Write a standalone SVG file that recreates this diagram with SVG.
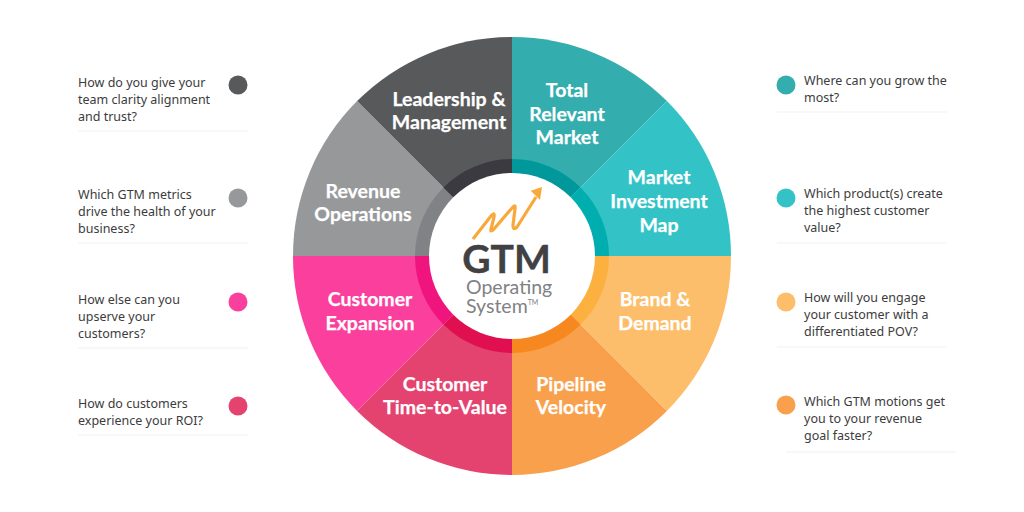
<svg xmlns="http://www.w3.org/2000/svg" width="1024" height="512" viewBox="0 0 1024 512">
<style>
.l{font-family:"Lato","Noto Sans",sans-serif;font-weight:700;font-size:19.500px;fill:#fff;text-anchor:middle;stroke:#fff;stroke-width:.25px}
.q{font-family:"Noto Sans","Open Sans",sans-serif;font-size:12.500px;fill:#3c3c3c}
.r{stroke:#f1f1f1;stroke-width:1;fill:none}
</style>
<rect width="1024" height="512" fill="#fff"/>
<g id="connectors"></g>
<g id="wheel">
<g id="total-relevant-market"><path d="M512 256V37A219 219 0 0 1 666.9 101.1Z" fill="#33adad"/><path d="M512 159A97 97 0 0 1 580.6 187.4L512 256Z" fill="#00989a"/><text class="l"><tspan x="567" y="97">Total</tspan><tspan x="567" y="120.500">Relevant</tspan><tspan x="567" y="144">Market</tspan></text></g>
<g id="market-investment-map"><path d="M512 256L666.9 101.1A219 219 0 0 1 731 256Z" fill="#33c3c6"/><path d="M512 256L580.6 187.4A97 97 0 0 1 609 256Z" fill="#00aeb0"/><text class="l"><tspan x="659" y="184">Market</tspan><tspan x="659" y="208">Investment</tspan><tspan x="659" y="232">Map</tspan></text></g>
<g id="brand-demand"><path d="M512 256H731A219 219 0 0 1 666.9 410.9Z" fill="#fdbe6b"/><path d="M512 256H609A97 97 0 0 1 580.6 324.6Z" fill="#fbb040"/><text class="l"><tspan x="655" y="306">Brand &amp;</tspan><tspan x="655" y="330">Demand</tspan></text></g>
<g id="pipeline-velocity"><path d="M512 256L666.9 410.9A219 219 0 0 1 512 475Z" fill="#f9a04d"/><path d="M512 256L580.6 324.6A97 97 0 0 1 512 353Z" fill="#f7881f"/><text class="l"><tspan x="571" y="391">Pipeline</tspan><tspan x="571" y="414">Velocity</tspan></text></g>
<g id="customer-time-to-value"><path d="M512 256V475A219 219 0 0 1 357.1 410.9Z" fill="#e4426f"/><path d="M512 256V353A97 97 0 0 1 443.4 324.6Z" fill="#e01050"/><text class="l"><tspan x="445" y="391">Customer</tspan><tspan x="445" y="414">Time-to-Value</tspan></text></g>
<g id="customer-expansion"><path d="M512 256L357.1 410.9A219 219 0 0 1 293 256Z" fill="#fb3f9c"/><path d="M512 256L443.4 324.6A97 97 0 0 1 415 256Z" fill="#f0147f"/><text class="l"><tspan x="370" y="306">Customer</tspan><tspan x="370" y="330">Expansion</tspan></text></g>
<g id="revenue-operations"><path d="M512 256H293A219 219 0 0 1 357.1 101.1Z" fill="#97989a"/><path d="M512 256H415A97 97 0 0 1 443.4 187.4Z" fill="#808285"/><text class="l"><tspan x="363" y="198">Revenue</tspan><tspan x="363" y="221">Operations</tspan></text></g>
<g id="leadership-management"><path d="M512 256L357.1 101.1A219 219 0 0 1 512 37Z" fill="#58595b"/><path d="M512 256L443.4 187.4A97 97 0 0 1 512 159Z" fill="#3a3a40"/><text class="l"><tspan x="449" y="105.500">Leadership &amp;</tspan><tspan x="449" y="129">Management</tspan></text></g>
</g>
<g id="hub">
<circle cx="512" cy="256" r="83" fill="#fff"/>
<path d="M473 239L491 216Q495 211 494 217L491 229Q490 233 494 229L512 208Q516 203 515 209L513 225Q513 231 517 227L536 197" fill="none" stroke="#f9a93c" stroke-width="3.2" stroke-linejoin="round"/>
<path d="M542 187L540 200L530.7 190.7Z" fill="#f9a93c"/>
<text x="506.500" y="273" text-anchor="middle" font-family="Lato,sans-serif" font-weight="700" font-size="39" fill="#414042" stroke="#414042" stroke-width=".4">GTM</text>
<text x="466" y="293.500" font-family="Lato,sans-serif" font-size="19.500" fill="#808285">Operating</text>
<text x="466" y="313" font-family="Lato,sans-serif" font-size="19.500" fill="#808285">System<tspan font-size="7" dy="-8">TM</tspan></text>
</g>
<g id="q1"><circle cx="238" cy="85" r="9.500" fill="#58595b"/><text class="q"><tspan x="78" y="87">How do you give your</tspan><tspan x="78" y="104">team clarity alignment</tspan><tspan x="78" y="121">and trust?</tspan></text><path class="r" d="M78 131H248"/></g>
<g id="q2"><circle cx="238" cy="198" r="9.500" fill="#97989a"/><text class="q"><tspan x="78" y="199">Which GTM metrics</tspan><tspan x="78" y="216">drive the health of your</tspan><tspan x="78" y="233">business?</tspan></text><path class="r" d="M78 243H248"/></g>
<g id="q3"><circle cx="238" cy="302" r="9.500" fill="#fb3f9c"/><text class="q"><tspan x="78" y="304">How else can you</tspan><tspan x="78" y="321">upserve your</tspan><tspan x="78" y="338">customers?</tspan></text><path class="r" d="M78 348H248"/></g>
<g id="q4"><circle cx="238" cy="406" r="9.500" fill="#e4426f"/><text class="q"><tspan x="78" y="408">How do customers</tspan><tspan x="78" y="425">experience your ROI?</tspan></text><path class="r" d="M78 435H248"/></g>
<g id="q5"><circle cx="786" cy="85" r="9.500" fill="#33adad"/><text class="q"><tspan x="804" y="85">Where can you grow the</tspan><tspan x="804" y="102">most?</tspan></text><path class="r" d="M777 112H947"/></g>
<g id="q6"><circle cx="786" cy="198" r="9.500" fill="#33c3c6"/><text class="q"><tspan x="804" y="198">Which product(s) create</tspan><tspan x="804" y="215">the highest customer</tspan><tspan x="804" y="232">value?</tspan></text><path class="r" d="M777 243H947"/></g>
<g id="q7"><circle cx="786" cy="302" r="9.500" fill="#fdbe6b"/><text class="q"><tspan x="804" y="302">How will you engage</tspan><tspan x="804" y="319">your customer with a</tspan><tspan x="804" y="336">differentiated POV?</tspan></text><path class="r" d="M777 347H947"/></g>
<g id="q8"><circle cx="786" cy="405" r="9.500" fill="#f9a04d"/><text class="q"><tspan x="804" y="406">Which GTM motions get</tspan><tspan x="804" y="423">you to your revenue</tspan><tspan x="804" y="440">goal faster?</tspan></text><path class="r" d="M786 452H956"/></g>
</svg>
